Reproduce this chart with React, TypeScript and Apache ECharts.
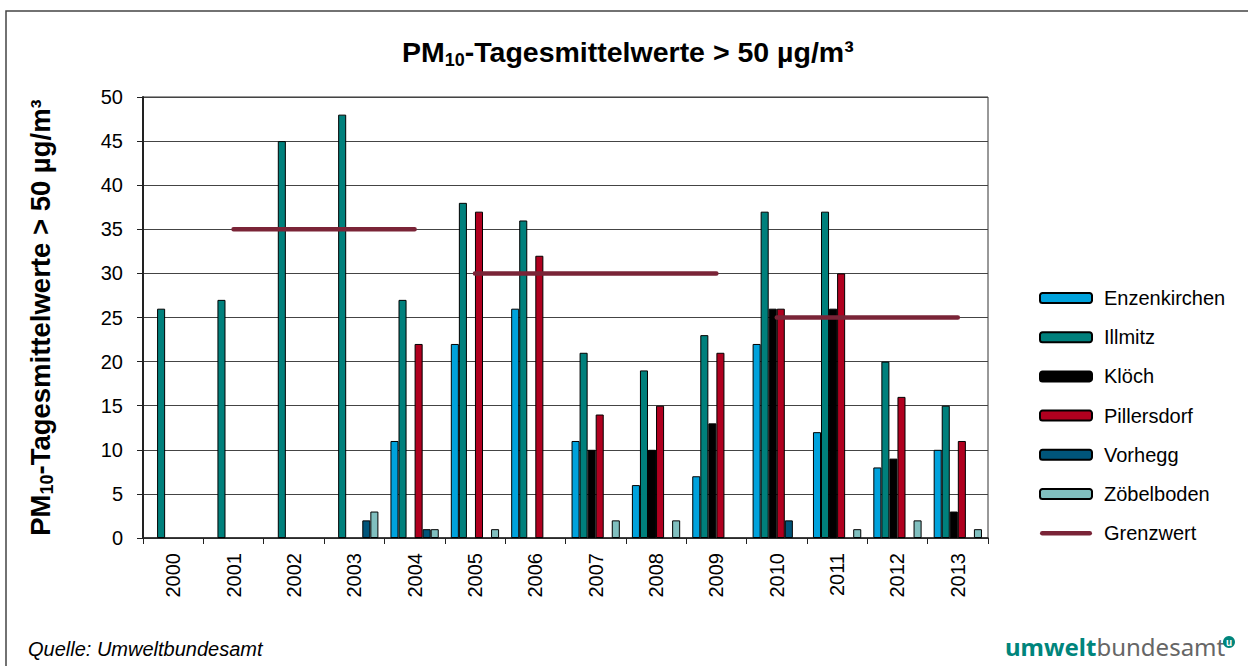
import React, { useEffect, useRef } from "react";
import * as echarts from "echarts";

const years = ["2000", "2001", "2002", "2003", "2004", "2005", "2006", "2007", "2008", "2009", "2010", "2011", "2012", "2013"];
const enzenkirchen = [null, null, null, null, 11, 22, 26, 11, 6, 7, 22, 12, 8, 10];
const illmitz = [26, 27, 45, 48, 27, 38, 36, 21, 19, 23, 37, 37, 20, 15];
const kloech = [null, null, null, null, null, null, null, 10, 10, 13, 26, 26, 9, 3];
const pillersdorf = [null, null, null, null, 22, 37, 32, 14, 15, 21, 26, 30, 16, 11];
const vorhegg = [null, null, null, 2, 1, null, null, null, null, null, 2, null, null, null];
const zoebelboden = [null, null, null, 3, 1, 1, null, 2, 2, null, null, 1, 2, 1];
const grenzwert1 = [null, 35, 35, 35, 35, null, null, null, null, null, null, null, null, null];
const grenzwert2 = [null, null, null, null, null, 30, 30, 30, 30, 30, null, null, null, null];
const grenzwert3 = [null, null, null, null, null, null, null, null, null, null, 25, 25, 25, 25];
const yTicks = { min: 0, max: 50, interval: 5 };

const barSeries = [
  { name: "Enzenkirchen", data: enzenkirchen, color: "#00A2DC" },
  { name: "Illmitz", data: illmitz, color: "#00807C" },
  { name: "Klöch", data: kloech, color: "#000000" },
  { name: "Pillersdorf", data: pillersdorf, color: "#B0001F" },
  { name: "Vorhegg", data: vorhegg, color: "#00557A" },
  { name: "Zöbelboden", data: zoebelboden, color: "#80BFBF" },
];
const lineColor = "#7A2437";

export default function App() {
  const ref = useRef<HTMLDivElement>(null);
  useEffect(() => {
    if (!ref.current) return;
    const chart = echarts.init(ref.current, null, { renderer: "svg" });
    const font = "Liberation Sans, Arial, sans-serif";
    const series: any[] = barSeries.map((s) => ({
      name: s.name,
      type: "bar",
      data: s.data,
      barGap: "0%",
      barCategoryGap: "20%",
      itemStyle: { color: s.color, borderColor: "#000", borderWidth: 1 },
    }));
    [grenzwert1, grenzwert2, grenzwert3].forEach((g) => {
      series.push({
        name: "Grenzwert",
        type: "line",
        data: g,
        symbol: "none",
        lineStyle: { color: lineColor, width: 4.5, cap: "round" },
        itemStyle: { color: lineColor },
        z: 5,
      });
    });
    const legendNames = ["Enzenkirchen", "Illmitz", "Klöch", "Pillersdorf", "Vorhegg", "Zöbelboden"];
    chart.setOption({
      animation: false,
      textStyle: { fontFamily: font },
      title: {
        text: "{a|PM}{b|10}{a|-Tagesmittelwerte > 50 µg/m³}",
        left: 397,
        top: 30,
        textStyle: {
          rich: {
            a: { fontSize: 28.5, fontWeight: "bold", color: "#000", fontFamily: font, lineHeight: 34 },
            b: { fontSize: 18, fontWeight: "bold", color: "#000", fontFamily: font, lineHeight: 16, verticalAlign: "bottom" },
          },
        },
      },
      legend: {
        orient: "vertical",
        left: 1034,
        top: 283,
        itemWidth: 52,
        itemHeight: 10,
        itemGap: 19.2,
        data: [
          ...legendNames,
          { name: "Grenzwert", icon: "path://M2.25,0 h47.5 a2.25,2.25 0 0 1 0,4.5 h-47.5 a2.25,2.25 0 0 1 0,-4.5 z" },
        ],
        textStyle: { fontSize: 20, color: "#000", fontFamily: font, lineHeight: 20, padding: [0, 0, 0, 7] },
      },
      grid: {
        left: 143,
        right: 260,
        top: 97,
        bottom: 128,
        show: true,
        borderColor: "#333",
        borderWidth: 1,
        backgroundColor: "transparent",
      },
      xAxis: {
        type: "category",
        data: years,
        boundaryGap: true,
        axisLine: { lineStyle: { color: "#222", width: 1.5 } },
        axisTick: { show: true, length: 6, alignWithLabel: false, lineStyle: { color: "#222" } },
        axisLabel: { rotate: 90, fontSize: 20, color: "#000", margin: 15, fontFamily: font },
      },
      yAxis: {
        type: "value",
        min: yTicks.min,
        max: yTicks.max,
        interval: yTicks.interval,
        name: "{a|PM}{b|10}{a|-Tagesmittelwerte > 50 µg/m³}",
        nameLocation: "middle",
        nameRotate: 90,
        nameGap: 87,
        nameTextStyle: {
          rich: {
            a: { fontSize: 27.5, fontWeight: "bold", color: "#000", fontFamily: font, lineHeight: 32 },
            b: { fontSize: 18, fontWeight: "bold", color: "#000", fontFamily: font, lineHeight: 14, verticalAlign: "bottom" },
          },
        },
        axisLine: { show: true, lineStyle: { color: "#222", width: 2 } },
        axisTick: { show: true, length: 6, lineStyle: { color: "#222" } },
        axisLabel: { fontSize: 20, color: "#000", margin: 20, fontFamily: font },
        splitLine: { show: true, lineStyle: { color: "#444", width: 1 } },
      },
      graphic: [
        {
          type: "rect",
          shape: { x: 6, y: 11, width: 1400, height: 800 },
          style: { fill: "none", stroke: "#444", lineWidth: 1.5 },
          silent: true,
        },
        {
          type: "text",
          left: 28,
          top: 639,
          style: { text: "Quelle: Umweltbundesamt", fontSize: 20, fontStyle: "italic", fill: "#000", fontFamily: font },
        },
        {
          type: "text",
          left: 1005,
          top: 634,
          style: {
            text: "{u|umwelt}{b|bundesamt}",
            rich: {
              u: { fontSize: 24, fontWeight: "bold", fill: "#00857C", fontFamily: "Noto Sans, sans-serif" },
              b: { fontSize: 24, fill: "#666666", fontFamily: "Noto Sans, sans-serif" },
            },
          },
        },
        {
          type: "circle",
          shape: { cx: 1229, cy: 642, r: 6 },
          style: { fill: "#00857C" },
        },
        {
          type: "text",
          x: 1229,
          y: 642,
          style: { text: "u", fontSize: 10, fontWeight: "bold", fill: "#fff", align: "center", verticalAlign: "middle", fontFamily: font },
        },
      ],
      series,
    });
    return () => chart.dispose();
  }, []);
  return <div ref={ref} style={{ position: "fixed", left: 0, top: 0, width: 1248, height: 666, background: "#fff" }} />;
}
